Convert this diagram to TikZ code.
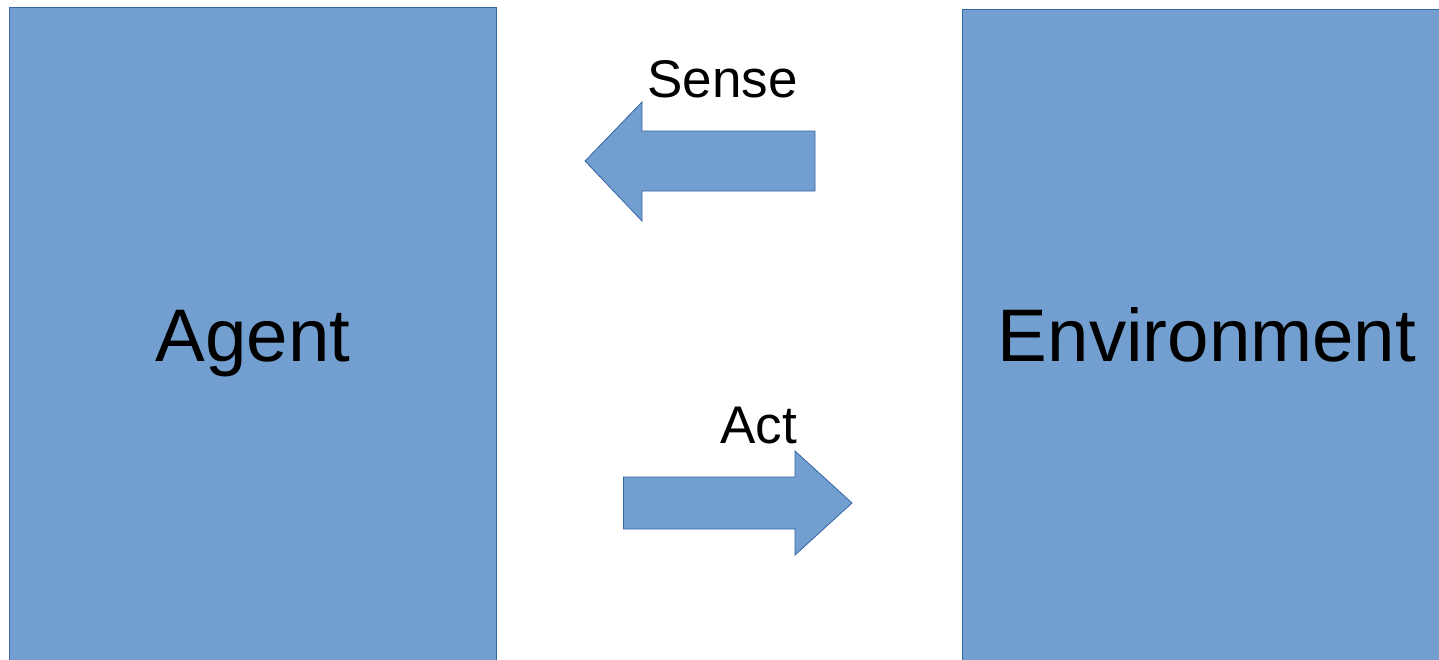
\documentclass[tikz,border=0pt]{standalone}
\usepackage{fontspec}
\setmainfont{Liberation Sans}
\definecolor{boxfill}{HTML}{729FCF}
\definecolor{boxline}{HTML}{3465A4}
\tikzset{
  panel/.style={fill=boxfill, draw=boxline, line width=0.9pt},
  flow/.style={fill=boxfill, draw=boxline, line width=0.8pt, line join=miter},
  bigtext/.style={font=\fontsize{74.5}{80}\selectfont, inner sep=0pt, anchor=base},
  smalltext/.style={font=\fontsize{53}{58}\selectfont, inner sep=0pt, anchor=base},
}
\begin{document}
\begin{tikzpicture}[x=1pt, y=-1pt]
  \clip (0,0) rectangle (1439,659);
  \fill[white] (0,0) rectangle (1439,659);

  % the two blocks
  \draw[panel] (9,7) rectangle (496,670);
  \draw[panel] (962,9) rectangle (1450,670);
  \node[bigtext] (agent) at (253,361) {Agent};
  \node[bigtext] (env) at (1207,361.5) {Environment};

  % sense: environment -> agent
  \draw[flow] (585,161) -- (642,102) -- (642,131) -- (815,131)
              -- (815,191) -- (642,191) -- (642,221) -- cycle;
  \node[smalltext] (sense) at (722.5,97.5) {Sense};

  % act: agent -> environment
  \draw[flow] (852,503) -- (795,451) -- (795,477) -- (623.5,477)
              -- (623.5,529) -- (795,529) -- (795,555) -- cycle;
  \node[smalltext] (act) at (758.5,443.5) {Act};
\end{tikzpicture}
\end{document}
